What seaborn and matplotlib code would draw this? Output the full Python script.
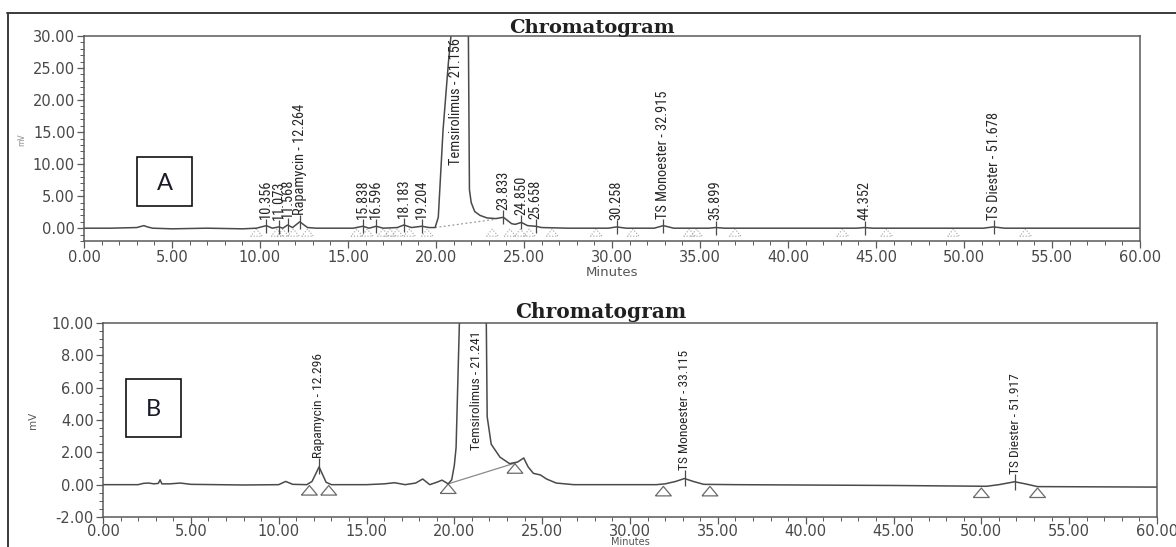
import matplotlib
matplotlib.use("Agg")
import matplotlib.pyplot as plt
import matplotlib.ticker as mticker
from matplotlib import font_manager
from matplotlib.font_manager import FontProperties
from matplotlib.lines import Line2D
from matplotlib.patches import Rectangle
import seaborn as sns

# === 1. Data ===
# panel A: trace (minutes, mV)
top_time = [0.0, 1.5, 3.0, 3.4, 3.6, 3.9, 5.0, 7.0, 9.0, 9.8, 10.36, 10.7, 11.07, 11.3,
            11.57, 11.85, 12.26, 12.7, 13.2, 15.3, 15.84, 16.2, 16.6, 17.0, 17.8, 18.18,
            18.6, 19.2, 19.6, 19.95, 20.13, 20.4, 20.7, 20.85, 21.0, 21.16, 21.7, 21.84,
            21.9, 22.0, 22.2, 22.5, 22.9, 23.4, 23.83, 24.3, 24.5, 24.85, 25.2, 25.66,
            26.0, 27.5, 29.8, 30.26, 30.8, 32.4, 32.92, 33.5, 35.5, 35.9, 36.4, 43.9,
            44.35, 44.8, 51.1, 51.68, 52.3, 60.0]
top_signal = [0.0, 0.0, 0.1, 0.4, 0.2, 0.0, -0.1, 0.0, -0.1, 0.0, 0.4, 0.0, 0.2, 0.0,
              0.5, 0.1, 1.0, 0.1, 0.0, 0.0, 0.3, 0.0, 0.3, 0.0, 0.1, 0.5,
              0.1, 0.3, 0.1, 0.1, 1.7, 15.3, 25.7, 30.0, 40.0, 45.0, 40.0, 30.0,
              6.0, 4.0, 2.6, 2.0, 1.6, 1.5, 1.7, 0.7, 0.6, 0.9, 0.4, 0.3,
              0.1, 0.0, 0.0, 0.2, 0.0, 0.0, 0.4, 0.0, 0.0, 0.1, 0.0, 0.0,
              0.1, 0.0, 0.0, 0.2, 0.0, 0.0]
top_labels = ["10.356", "11.073", "11.568", "Rapamycin - 12.264", "15.838", "16.596",
              "18.183", "19.204", "Temsirolimus - 21.156", "23.833", "24.850", "25.658",
              "30.258", "TS Monoester - 32.915", "35.899", "44.352", "TS Diester - 51.678"]
top_label_rt = [10.356, 11.073, 11.568, 12.264, 15.838, 16.596, 18.183, 19.204, 21.156,
                23.833, 24.850, 25.658, 30.258, 32.915, 35.899, 44.352, 51.678]
top_label_base = [1.5, 1.3, 1.6, 2.1, 1.4, 1.4, 1.6, 1.4, 9.8,
                  2.8, 2.0, 1.4, 1.3, 1.5, 1.2, 1.2, 1.3]
top_marks_x = [9.8, 10.97, 11.3, 11.9, 12.7, 15.5, 16.1, 17.0, 17.4, 17.8, 18.5, 19.5,
               23.2, 24.2, 24.8, 25.3, 26.6, 29.1, 31.2, 34.4, 34.8, 37.0, 43.1, 45.6,
               49.4, 53.5]
top_marks_y = [-0.7] * len(top_marks_x)
top_base_x = [19.95, 23.4]
top_base_y = [0.1, 1.4]

# panel B
bot_time = [0.0, 2.0, 2.3, 2.6, 2.9, 3.15, 3.25, 3.35, 3.8, 4.4, 5.0, 8.0, 10.0, 10.4,
            10.8, 11.6, 11.9, 12.3, 12.7, 13.0, 15.0, 16.0, 16.6, 17.2, 17.8, 18.2, 18.6,
            19.0, 19.3, 19.65, 19.85, 20.0, 20.1, 20.3, 20.5, 21.24, 21.75, 21.82, 21.87,
            22.1, 22.6, 23.15, 23.6, 23.95, 24.2, 24.5, 24.9, 25.25, 25.8, 26.8, 31.5,
            32.0, 32.6, 33.1, 33.6, 34.2, 36.0, 45.0, 50.3, 51.0, 51.5, 51.9, 52.5, 53.2,
            60.0]
bot_signal = [0.0, 0.0, 0.08, 0.1, 0.05, 0.08, 0.3, 0.05, 0.05, 0.1, 0.02, -0.02, 0.0, 0.2,
              0.02, 0.0, 0.2, 1.1, 0.15, 0.0, 0.0, 0.05, 0.12, 0.0, 0.1, 0.35, 0.0,
              0.15, 0.28, 0.05, 0.3, 1.2, 2.3, 10.5, 30.0, 60.0, 30.0, 10.0, 4.2,
              2.5, 1.7, 1.3, 1.4, 1.65, 1.1, 0.7, 0.6, 0.35, 0.1, 0.0, 0.0,
              0.05, 0.2, 0.38, 0.2, 0.02, 0.0, -0.05, -0.1, 0.0, 0.1, 0.18, 0.05, -0.12,
              -0.15]
bot_labels = ["Rapamycin - 12.296", "Temsirolimus - 21.241", "TS Monoester - 33.115",
              "TS Diester - 51.917"]
bot_label_rt = [12.296, 21.241, 33.115, 51.917]
bot_label_base = [1.65, 2.15, 0.9, 0.65]
bot_marks_x = [11.75, 12.85, 19.65, 23.45, 31.9, 34.55, 50.0, 53.2]
bot_marks_y = [-0.35, -0.35, -0.25, 1.0, -0.4, -0.4, -0.5, -0.5]
bot_base_x = [19.65, 23.5]
bot_base_y = [0.05, 1.35]

# === 2. Style ===
sns.set_theme(style="ticks")
plt.rcParams['font.family'] = ['DejaVu Sans']
names = {f.name for f in font_manager.fontManager.ttflist}
box_font = 'Lato' if 'Lato' in names else 'DejaVu Sans'

# find a narrow font for the peak labels (Empower prints them condensed)
narrow_path = None
for key in ['liberationsansnarrow-regular', 'robotocondensed-regular',
            'dejavusanscondensed.ttf', 'opensans_condensed-regular',
            'opensans-condensedregular', 'narrow', 'condensed']:
    for f in font_manager.fontManager.ttflist:
        fn = f.fname.lower().replace(' ', '')
        if key in fn and 'bold' not in fn and 'italic' not in fn and 'oblique' not in fn:
            narrow_path = f.fname
            break
    if narrow_path:
        break

W, H = 1176, 547
fig = plt.figure(figsize=(W / 100, H / 100), dpi=100)
fig.patch.set_facecolor('white')
renderer = fig.canvas.get_renderer()


def label_font(sample, target_px):
    # size the label font so that the longest label is as long as in the scan
    fp = FontProperties(fname=narrow_path) if narrow_path else FontProperties(family='DejaVu Sans')
    fp.set_size(10)
    t = fig.text(0, 0, sample, fontproperties=fp)
    w = t.get_window_extent(renderer).width
    t.remove()
    fp.set_size(10 * target_px / w)
    return fp


def fx(x):
    return x / W


def fy(y):
    return 1 - y / H


trace_col = '#4a4a4a'
frame_col = '#5a5a5a'
tri = [(-1, -0.6), (1, -0.6), (0, 0.6), (-1, -0.6)]


def style_axes(ax, ymin, ymax, ymaj, ymin_step):
    ax.set_xlim(0, 60)
    ax.set_ylim(ymin, ymax)
    ax.xaxis.set_major_locator(mticker.MultipleLocator(5))
    ax.xaxis.set_minor_locator(mticker.MultipleLocator(1))
    ax.yaxis.set_major_locator(mticker.MultipleLocator(ymaj))
    ax.yaxis.set_minor_locator(mticker.MultipleLocator(ymin_step))
    ax.xaxis.set_major_formatter(mticker.FormatStrFormatter('%.2f'))
    ax.yaxis.set_major_formatter(mticker.FormatStrFormatter('%.2f'))
    ax.tick_params(which='major', direction='out', length=5, width=0.9, color=frame_col,
                   labelsize=10.5, labelcolor='#484848', pad=1.5)
    ax.tick_params(which='minor', direction='out', length=3, width=0.7, color=frame_col)
    for s in ax.spines.values():
        s.set_color(frame_col)
        s.set_linewidth(1.1)
    ax.set_xlabel('')
    ax.set_ylabel('')
    ax.set_facecolor('none')


def draw_labels(ax, labels, rts, bases, fp, tick_len, tick_limit):
    for name, rt, b in zip(labels, rts, bases):
        if b < tick_limit:
            ax.vlines(rt, b - tick_len, b, color=trace_col, lw=0.9)
        ax.text(rt, b, name, rotation=90, ha='center', va='bottom', fontproperties=fp,
                color='#262626')


# === 3. Panel A ===
ax1 = fig.add_axes([fx(84), fy(241), fx(1140) - fx(84), fy(36) - fy(241)])
ax1.plot(top_base_x, top_base_y, color='#9a9a9a', lw=0.9, ls=(0, (1.5, 2)))
ax1.scatter(top_marks_x, top_marks_y, marker=tri, s=70, facecolors='none',
            edgecolors='#a0a0a0', linewidths=0.8, linestyles=':', zorder=2)
sns.lineplot(x=top_time, y=top_signal, ax=ax1, color=trace_col, linewidth=1.1)
style_axes(ax1, -2, 30, 5, 1)
draw_labels(ax1, top_labels, top_label_rt, top_label_base,
            label_font("Temsirolimus - 21.156", 126), 2.2, 5)

# === 4. Panel B ===
ax2 = fig.add_axes([fx(103), fy(517), fx(1157) - fx(103), fy(323) - fy(517)])
ax2.plot(bot_base_x, bot_base_y, color='#8a8a8a', lw=0.9)
ax2.scatter(bot_marks_x, bot_marks_y, marker=tri, s=130, facecolors='none',
            edgecolors='#6a6a6a', linewidths=0.9, zorder=2)
sns.lineplot(x=bot_time, y=bot_signal, ax=ax2, color=trace_col, linewidth=1.1)
style_axes(ax2, -2, 10, 2, 0.5)
ax2.tick_params(axis='x', which='major', pad=0.3)
draw_labels(ax2, bot_labels, bot_label_rt, bot_label_base,
            label_font("Temsirolimus - 21.241", 118), 1.0, 1.9)

# === 5. Titles, axis names, boxes, frame ===
fig.text(fx(592), fy(28), 'Chromatogram', ha='center', va='center', fontsize=14,
         fontweight='bold', family='DejaVu Serif', color='#202020')
fig.text(fx(601), fy(312), 'Chromatogram', ha='center', va='center', fontsize=14.5,
         fontweight='bold', family='DejaVu Serif', color='#202020')
fig.text(fx(612), fy(273), 'Minutes', ha='center', va='center', fontsize=9.5,
         color='#555555')
fig.text(fx(630), fy(546.8), 'Minutes', ha='center', va='bottom', fontsize=7,
         color='#555555')
fig.text(fx(22), fy(140), 'mV', rotation=90, ha='center', va='center', fontsize=5.5,
         color='#8a8a8a')
fig.text(fx(33), fy(420), 'mV', rotation=90, ha='center', va='center', fontsize=7.5,
         color='#5a5a5a')

for (x0, y0, x1, y1, letter) in [(137, 157, 192, 206, 'A'), (126, 379, 181, 437, 'B')]:
    fig.add_artist(Rectangle((fx(x0), fy(y1)), fx(x1) - fx(x0), fy(y0) - fy(y1),
                             transform=fig.transFigure, fill=False, ec='#111111', lw=1.2))
    fig.text(fx((x0 + x1) / 2), fy((y0 + y1) / 2 + 2), letter, ha='center', va='center',
             fontsize=17, family=box_font, color='#1a1a2a')

fig.add_artist(Line2D([fx(7), 1], [fy(13), fy(13)], transform=fig.transFigure,
                      color='#3a3a3a', lw=1.4))
fig.add_artist(Line2D([fx(8), fx(8)], [fy(13), 0], transform=fig.transFigure,
                      color='#3a3a3a', lw=1.4))

plt.savefig("out.png", dpi=100, facecolor='white')
